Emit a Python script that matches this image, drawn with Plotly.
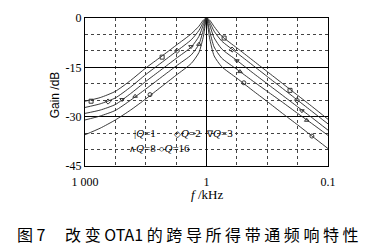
import plotly.graph_objects as go

# position along the frequency axis, in grid divisions from the centre (1 kHz)
U = [-4, -3.5, -3, -2.5, -2, -1.5, -1, -0.5, -0.25, -0.1, 0,
     0.1, 0.25, 0.5, 1, 1.5, 2, 2.5, 3, 3.5, 4]

gain_q1 = [-25.3, -24.2, -22.3, -19.0, -15.2, -11.8, -8.3, -4.8, -2.5, -0.6, 0,
           -0.6, -2.6, -5.5, -9.1, -12.7, -16.3, -19.9, -23.5, -27.1, -30.8]
gain_q2 = [-27.2, -26.1, -24.3, -21.0, -17.2, -13.7, -10.2, -6.6, -3.8, -1.2, 0,
           -1.2, -4.0, -7.0, -10.6, -14.2, -17.8, -21.4, -25.0, -28.6, -32.2]
gain_q3 = [-29.0, -28.0, -26.3, -23.0, -19.3, -15.8, -12.3, -8.8, -5.6, -2.0, 0,
           -2.0, -6.0, -9.4, -12.9, -16.5, -20.0, -23.5, -27.0, -30.5, -34.1]
gain_q8 = [-31.0, -29.8, -28.1, -25.0, -21.6, -18.1, -14.6, -11.2, -8.0, -3.5, 0,
           -3.8, -8.8, -12.2, -15.6, -19.0, -22.3, -25.6, -29.0, -32.3, -35.7]
gain_q16 = [-35.5, -33.5, -31.0, -28.0, -24.6, -21.0, -17.4, -13.8, -10.5, -5.5, 0,
            -6.0, -11.5, -14.8, -18.3, -21.9, -25.4, -29.0, -32.5, -36.1, -39.7]

# measured points (markers)
mk_q1_u = [-3.8, -1.46, 0.58, 2.75];  mk_q1_g = [-25.3, -11.9, -6.1, -22.0]
mk_q2_u = [-3.24, -0.97, 0.84, 2.98]; mk_q2_g = [-25.4, -10.0, -9.6, -25.0]
mk_q3_u = [-2.78, -0.51, 1.0, 3.14];  mk_q3_g = [-24.8, -8.7, -13.0, -28.2]
mk_q8_u = [-2.35, -0.25, 1.1, 3.3];   mk_q8_g = [-23.8, -8.0, -16.3, -31.1]
mk_q16_u = [-1.86, 1.23, 3.47];       mk_q16_g = [-23.3, -19.7, -35.9]

x_tick_pos = [-4, 0, 4]
x_tick_text = ["1 000", "1", "0.1"]
y_tick_vals = [0, -15, -30, -45]

curves = [gain_q1, gain_q2, gain_q3, gain_q8, gain_q16]
markers = [(mk_q1_u, mk_q1_g, "square-open"),
           (mk_q2_u, mk_q2_g, "diamond-open"),
           (mk_q3_u, mk_q3_g, "triangle-down-open"),
           (mk_q8_u, mk_q8_g, "triangle-up-open"),
           (mk_q16_u, mk_q16_g, "circle-open")]

fig = go.Figure()
for g in curves:
    fig.add_trace(go.Scatter(x=U, y=g, mode="lines",
                             line=dict(color="#222", width=0.9, shape="spline", smoothing=0.6),
                             showlegend=False, hoverinfo="skip"))
for mu, mg, sym in markers:
    fig.add_trace(go.Scatter(x=mu, y=mg, mode="markers",
                             marker=dict(symbol=sym, size=4, color="#333",
                                         line=dict(width=1, color="#333")),
                             showlegend=False, hoverinfo="skip"))

serif = "Liberation Serif"
fig.update_layout(
    width=368, height=247,
    margin=dict(l=85, r=40, t=11, b=81),
    paper_bgcolor="white", plot_bgcolor="white",
    font=dict(family=serif, size=12, color="black"),
    xaxis=dict(range=[-4, 4], tickmode="array", tickvals=x_tick_pos, ticktext=x_tick_text,
               showgrid=True, gridcolor="black", gridwidth=1,
               minor=dict(dtick=1, tick0=0, showgrid=True, gridcolor="#444",
                          griddash="dot", gridwidth=1),
               showline=True, mirror=True, linecolor="black", linewidth=1.2,
               ticks="", ticklabelstandoff=4, zeroline=False,
               tickfont=dict(family=serif, size=12)),
    yaxis=dict(range=[-45, 0], tickmode="array", tickvals=y_tick_vals,
               ticktext=["0", "-15", "-30", "-45"],
               showgrid=True, gridcolor="black", gridwidth=1,
               minor=dict(dtick=5, tick0=0, showgrid=True, gridcolor="#444",
                          griddash="dot", gridwidth=1),
               showline=True, mirror=True, linecolor="black", linewidth=1.2,
               ticks="", zeroline=False, tickfont=dict(family=serif, size=12)),
)

def px(xp):
    return (xp - 85) / 243.0

def py(yp):
    return (166 - yp) / 155.0

sym = lambda s: '<span style="font-size:9px">' + s + '</span>'
ann = []
legend_items = [("|<i>Q</i>=1", 132, 131), (sym("◇") + "<i>Q</i>=2", 172, 131),
                (sym("∇") + "<i>Q</i>=3", 204, 131),
                (sym("∧") + "<i>Q</i>=8", 127, 147), (sym("○") + "<i>Q</i>=16", 157, 147)]
for t, xx, yy in legend_items:
    ann.append(dict(text=t, x=px(xx), y=py(yy), xref="paper", yref="paper",
                    xanchor="left", yanchor="middle", showarrow=False,
                    font=dict(family=serif, size=11, color="black")))
ann.append(dict(text="Gain /dB", x=px(55), y=py(92), xref="paper", yref="paper",
                xanchor="center", yanchor="middle", textangle=-90, showarrow=False,
                font=dict(family="Liberation Sans", size=12, color="black")))
ann.append(dict(text="<i>f</i> /kHz", x=px(207), y=py(196), xref="paper", yref="paper",
                xanchor="center", yanchor="middle", showarrow=False,
                font=dict(family=serif, size=13, color="black")))
ann.append(dict(text="图 7　 改 变 OTA1 的 跨 导 所 得 带 通 频 响 特 性",
                x=px(188), y=py(237), xref="paper", yref="paper",
                xanchor="center", yanchor="middle", showarrow=False,
                font=dict(family="Noto Sans CJK SC", size=16, color="black")))
fig.update_layout(annotations=ann)

fig.write_html("out.html")
